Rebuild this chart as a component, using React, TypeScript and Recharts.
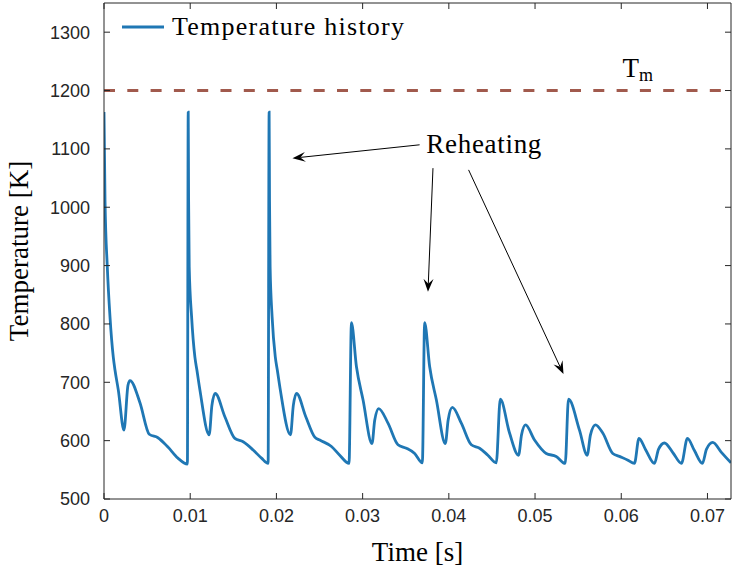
import { LineChart, Line, XAxis, YAxis, ReferenceLine, ReferenceDot, Legend } from 'recharts';

// time [s] and temperature [K]
const times = [
  0, 0.000116, 0.000382, 0.000695, 0.001078, 0.001275, 0.001657, 0.002317, 0.002781, 0.003013,
  0.004171, 0.005249, 0.006257, 0.007416, 0.008575, 0.009675,
  0.009768, 0.009814, 0.009884, 0.010162, 0.010544, 0.010776, 0.011124, 0.012201, 0.012514, 0.012896,
  0.01402, 0.015179, 0.016141, 0.017299, 0.018273, 0.019038,
  0.019153, 0.0192, 0.019269, 0.019501, 0.019872, 0.020103, 0.020451, 0.021633, 0.021958, 0.022328,
  0.023406, 0.024449, 0.025028, 0.026384, 0.027345, 0.028423,
  0.028701, 0.02928, 0.030045, 0.031088, 0.031401, 0.031864, 0.032942, 0.0341, 0.035074, 0.036036, 0.036928,
  0.037194, 0.037773, 0.03855, 0.039593, 0.039917, 0.040404, 0.041447, 0.042605, 0.043567, 0.044529, 0.045502,
  0.045966, 0.047043, 0.048086, 0.048434, 0.048897, 0.04994, 0.051296, 0.052455, 0.053498,
  0.05388, 0.055155, 0.056047, 0.056429, 0.057009, 0.057854, 0.059013, 0.059789, 0.060716, 0.061527,
  0.062057, 0.06281, 0.063853, 0.064316, 0.065011, 0.066054, 0.066981, 0.067676, 0.068487, 0.069414,
  0.069878, 0.070608, 0.071616, 0.07273,
];

const temps = [
  1163, 1013, 898, 812, 743, 721, 687, 618, 695, 703, 665, 611, 605, 589, 570, 560,
  1163, 1013, 898, 812, 743, 721, 687, 610, 660, 681, 641, 604, 598, 584, 570, 561,
  1163, 1013, 898, 812, 743, 721, 687, 610, 660, 681, 641, 606, 601, 590, 575, 561,
  802, 727, 670, 595, 635, 655, 630, 593, 587, 578, 562,
  802, 727, 670, 595, 635, 657, 630, 593, 587, 575, 562,
  671, 613, 575, 610, 627, 601, 578, 573, 561,
  671, 618, 575, 610, 627, 613, 578, 573, 567, 561,
  604, 585, 561, 585, 596, 578, 561, 604, 583, 561, 585, 597, 580, 562,
];

const xTicks = [0, 0.01, 0.02, 0.03, 0.04, 0.05, 0.06, 0.07];
const yTicks = [500, 600, 700, 800, 900, 1000, 1100, 1200, 1300];
const meltTemp = 1200;

// annotation anchors in data units: [time, temperature]
const reheatLabel = [0.03739, 1093];
const meltLabel = [0.06014, 1223];
const arrowFrom = [[0.03661, 1107], [0.03816, 1067], [0.04229, 1064]];
const arrowTo = [[0.02186, 1084], [0.03758, 855], [0.0533, 714]];

const data = times.map((t, i) => ({ t, T: temps[i] }));

const serif = '"Liberation Serif", "Times New Roman", serif';
const sans = '"Liberation Sans", Arial, Helvetica, sans-serif';
const axisColor = '#262626';
const lineColor = '#1f77b4';
const meltColor = '#a15a4d';

function Arrow(p: any) {
  const { x1, y1, x2, y2 } = p;
  const dx = x2 - x1;
  const dy = y2 - y1;
  const len = Math.hypot(dx, dy) || 1;
  const ux = dx / len;
  const uy = dy / len;
  const L = 13, W = 5, N = 8;
  const bx = x2 - ux * L;
  const by = y2 - uy * L;
  const nx = x2 - ux * N;
  const ny = y2 - uy * N;
  const head = `M${x2},${y2} L${bx - uy * W},${by + ux * W} L${nx},${ny} L${bx + uy * W},${by - ux * W} Z`;
  return (
    <g>
      <line x1={x1} y1={y1} x2={nx} y2={ny} stroke="#000" strokeWidth={1} />
      <path d={head} fill="#000" />
    </g>
  );
}

function LegendBox() {
  return (
    <svg width={320} height={44} style={{ display: 'block' }}>
      <line x1={4} y1={19} x2={46} y2={19} stroke={lineColor} strokeWidth={3} />
      <text x={54} y={27} fontFamily={serif} fontSize={26} fill="#000" textLength={232} lengthAdjust="spacing">
        Temperature history
      </text>
    </svg>
  );
}

export default function App() {
  return (
    <div style={{ position: 'absolute', left: 0, top: 0, background: '#fff' }}>
      <style>{'body{margin:0;background:#fff}'}</style>
      <LineChart width={732} height={572} data={data} margin={{ top: 2, right: 0, bottom: 0, left: 0 }}>
        <XAxis
          dataKey="t"
          type="number"
          domain={[0, 0.07273]}
          ticks={xTicks}
          allowDataOverflow
          height={73}
          tickSize={-6}
          tickMargin={16}
          tickFormatter={(v: number) => (v === 0 ? '0' : v.toFixed(2))}
          tick={{ fill: axisColor, fontSize: 18, fontFamily: sans }}
          axisLine={{ stroke: axisColor }}
          tickLine={{ stroke: axisColor }}
          label={{
            value: 'Time [s]',
            position: 'insideBottom',
            offset: 11,
            style: { fontFamily: serif, fontSize: 27, fill: '#000' },
          }}
        />
        <XAxis
          xAxisId="top"
          orientation="top"
          dataKey="t"
          type="number"
          domain={[0, 0.07273]}
          ticks={xTicks}
          allowDataOverflow
          height={1}
          tickSize={-6}
          tickFormatter={() => ''}
          axisLine={{ stroke: axisColor }}
          tickLine={{ stroke: axisColor }}
        />
        <YAxis
          type="number"
          domain={[500, 1350]}
          ticks={yTicks}
          allowDataOverflow
          width={104}
          tickSize={-6}
          tickMargin={20}
          tick={{ fill: axisColor, fontSize: 18, fontFamily: sans }}
          axisLine={{ stroke: axisColor }}
          tickLine={{ stroke: axisColor }}
          label={{
            value: 'Temperature [K]',
            angle: -90,
            position: 'insideLeft',
            offset: 18,
            style: { fontFamily: serif, fontSize: 27, fill: '#000', textAnchor: 'middle' },
          }}
        />
        <YAxis
          yAxisId="right"
          orientation="right"
          type="number"
          domain={[500, 1350]}
          ticks={yTicks}
          allowDataOverflow
          width={1}
          tickSize={-6}
          tickFormatter={() => ''}
          axisLine={{ stroke: axisColor }}
          tickLine={{ stroke: axisColor }}
        />
        <Legend
          verticalAlign="middle"
          align="center"
          layout="horizontal"
          wrapperStyle={{ top: 8, left: 118, width: 320, height: 44 }}
          content={() => <LegendBox />}
        />
        <ReferenceLine
          y={meltTemp}
          stroke={meltColor}
          strokeWidth={3}
          strokeDasharray="11 12.3"
        />
        <Line
          xAxisId="top"
          yAxisId="right"
          dataKey="T"
          stroke="none"
          dot={false}
          activeDot={false}
          legendType="none"
          isAnimationActive={false}
        />
        <Line
          type="monotone"
          dataKey="T"
          stroke={lineColor}
          strokeWidth={2.8}
          dot={false}
          activeDot={false}
          isAnimationActive={false}
        />
        {arrowFrom.map((a, i) => (
          <ReferenceLine
            key={i}
            segment={[{ x: a[0], y: a[1] }, { x: arrowTo[i][0], y: arrowTo[i][1] }]}
            shape={(p: any) => <Arrow {...p} />}
          />
        ))}
        <ReferenceDot
          x={reheatLabel[0]}
          y={reheatLabel[1]}
          r={0}
          shape={(p: any) => (
            <text x={p.cx} y={p.cy} fontFamily={serif} fontSize={27} fill="#000" textLength={115} lengthAdjust="spacing">
              Reheating
            </text>
          )}
        />
        <ReferenceDot
          x={meltLabel[0]}
          y={meltLabel[1]}
          r={0}
          shape={(p: any) => (
            <text x={p.cx} y={p.cy} fontFamily={serif} fontSize={27} fill="#000">
              T<tspan fontSize={18} dy={4}>m</tspan>
            </text>
          )}
        />
      </LineChart>
    </div>
  );
}
